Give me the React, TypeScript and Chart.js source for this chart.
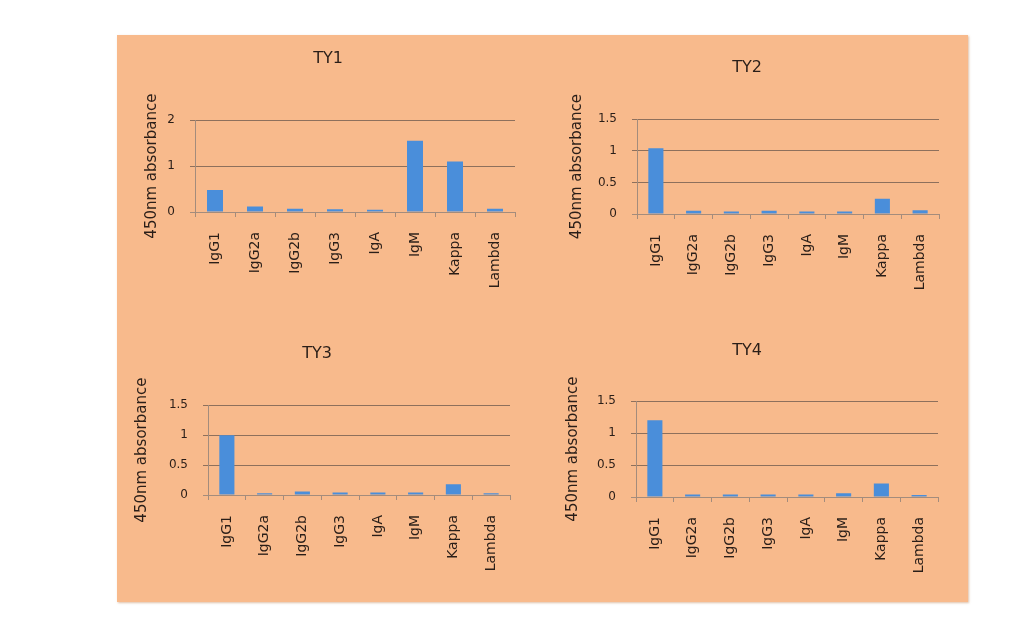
import React, { useEffect, useRef } from "react";
import { Chart, registerables } from "chart.js";

Chart.register(...registerables);

const categories = ["IgG1", "IgG2a", "IgG2b", "IgG3", "IgA", "IgM", "Kappa", "Lambda"];
const ty1Values = [0.48, 0.12, 0.07, 0.06, 0.05, 1.55, 1.1, 0.07];
const ty2Values = [1.04, 0.05, 0.04, 0.05, 0.04, 0.04, 0.24, 0.06];
const ty3Values = [1.0, 0.03, 0.06, 0.04, 0.04, 0.04, 0.18, 0.03];
const ty4Values = [1.2, 0.04, 0.04, 0.04, 0.04, 0.06, 0.21, 0.03];
const chartTitles = ["TY1", "TY2", "TY3", "TY4"];
const yAxisTitle = "450nm absorbance";
const ty1Axis = { max: 2, step: 1 };
const otherAxis = { max: 1.5, step: 0.5 };

const PANEL_BG = "#F8BA8C";
const BAR_COLOR = "#4A8EDA";
const GRID_COLOR = "#8E705C";
const AXIS_COLOR = "#A48C7C";
const TEXT_COLOR = "#2A1E18";
const FONT = "'DejaVu Sans', sans-serif";

type Layout = {
  left: number;
  top: number;
  width: number;
  height: number;
  yWidth: number;
  yTitlePad: number;
  titlePadTop: number;
  titlePadBottom: number;
  padRight: number;
  xHeight: number;
};

function PanelChart(props: {
  title: string;
  values: number[];
  axis: { max: number; step: number };
  layout: Layout;
}) {
  const ref = useRef<HTMLCanvasElement | null>(null);
  const { title, values, axis, layout } = props;
  useEffect(() => {
    if (!ref.current) return;
    const chart = new Chart(ref.current, {
      type: "bar",
      data: {
        labels: categories,
        datasets: [
          {
            data: values,
            backgroundColor: BAR_COLOR,
            borderWidth: 0,
            categoryPercentage: 1,
            barPercentage: 0.4,
          },
        ],
      },
      options: {
        animation: false,
        responsive: false,
        devicePixelRatio: 1,
        layout: { padding: { left: 0, right: layout.padRight, top: 0, bottom: 0 } },
        plugins: {
          legend: { display: false },
          tooltip: { enabled: false },
          title: {
            display: true,
            text: title,
            color: TEXT_COLOR,
            font: { family: FONT, size: 16, weight: "normal" },
            padding: { top: layout.titlePadTop, bottom: layout.titlePadBottom },
          },
        },
        scales: {
          x: {
            grid: {
              display: true,
              drawOnChartArea: false,
              drawTicks: true,
              tickLength: 5,
              color: AXIS_COLOR,
              offset: true,
            },
            border: { display: true, color: AXIS_COLOR, width: 1 },
            ticks: {
              autoSkip: false,
              minRotation: 90,
              maxRotation: 90,
              padding: 15,
              color: TEXT_COLOR,
              font: { family: FONT, size: 14 },
            },
            afterFit: (scale: any) => {
              scale.height = layout.xHeight;
            },
          },
          y: {
            min: 0,
            max: axis.max,
            ticks: {
              stepSize: axis.step,
              padding: 15,
              color: TEXT_COLOR,
              font: { family: FONT, size: 12 },
              callback: (value: any) => String(Number(value)),
            },
            grid: {
              color: (ctx: any) => (ctx.tick && ctx.tick.value === 0 ? AXIS_COLOR : GRID_COLOR),
              tickLength: 5,
              drawTicks: true,
            },
            border: { display: true, color: AXIS_COLOR, width: 1 },
            title: {
              display: true,
              text: yAxisTitle,
              color: TEXT_COLOR,
              font: { family: FONT, size: 15 },
              padding: { top: layout.yTitlePad, bottom: 0 },
            },
            afterFit: (scale: any) => {
              scale.width = layout.yWidth;
            },
          },
        },
      },
    });
    return () => chart.destroy();
  }, [title, values, axis, layout]);
  return (
    <canvas
      ref={ref}
      width={layout.width}
      height={layout.height}
      style={{
        position: "absolute",
        left: layout.left,
        top: layout.top,
        width: layout.width,
        height: layout.height,
      }}
    />
  );
}

const layouts: Layout[] = [
  { left: 141, top: 38, width: 394, height: 259, yWidth: 54, yTitlePad: 2, titlePadTop: 11, titlePadBottom: 52, padRight: 20, xHeight: 85 },
  { left: 555, top: 48, width: 404, height: 251, yWidth: 82, yTitlePad: 13, titlePadTop: 10, titlePadBottom: 42, padRight: 20, xHeight: 85 },
  { left: 124, top: 334, width: 406, height: 246, yWidth: 84, yTitlePad: 9, titlePadTop: 10, titlePadBottom: 42, padRight: 20, xHeight: 85 },
  { left: 556, top: 331, width: 402, height: 251, yWidth: 80, yTitlePad: 8, titlePadTop: 10, titlePadBottom: 41, padRight: 20, xHeight: 85 },
];

const seriesList = [ty1Values, ty2Values, ty3Values, ty4Values];
const axes = [ty1Axis, otherAxis, otherAxis, otherAxis];

export default function App() {
  useEffect(() => {
    Chart.defaults.font.family = FONT;
  }, []);
  return (
    <div style={{ position: "relative", width: 1008, height: 613 }}>
      <div
        style={{
          position: "absolute",
          left: 109,
          top: 27,
          width: 851,
          height: 567,
          background: PANEL_BG,
          boxShadow: "1px 1px 2px rgba(200,150,110,0.6)",
        }}
      />
      {seriesList.map((vals, i) => (
        <PanelChart
          key={chartTitles[i]}
          title={chartTitles[i]}
          values={vals}
          axis={axes[i]}
          layout={{ ...layouts[i], left: layouts[i].left - 8, top: layouts[i].top - 8 }}
        />
      ))}
    </div>
  );
}
